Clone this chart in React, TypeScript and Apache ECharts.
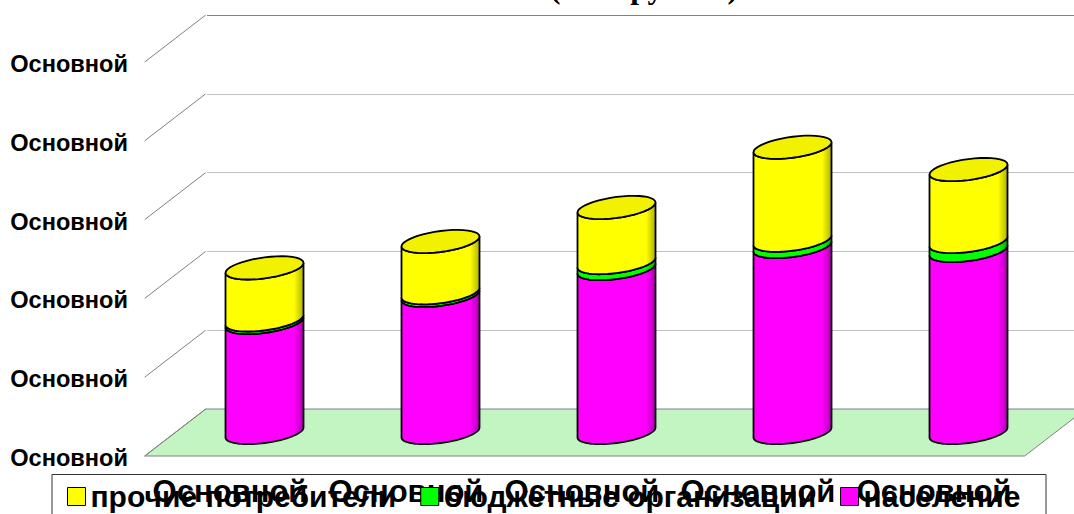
import React, { useEffect, useRef } from "react";
import * as echarts from "echarts";

const categories = ["Основной", "Основной", "Основной", "Основной", "Основной"];
const population = [139.7, 174, 208, 236, 231];
const budget = [3.2, 3.4, 7.6, 8, 11.4];
const others = [66, 65, 70, 118, 91.3];
const axisLabel = "Основной";
const names = ["население", "бюджетные организации", "прочие потребители"];
const colors = ["#ff00ff", "#00ff00", "#ffff00"];
const darks = ["#b000b0", "#00b000", "#b0b000"];
const topColors = ["#f000f0", "#00f000", "#f2f200"];

const DX = 30.5, DY = -25.5, A = 39, K = 5, B = 10.5;
const SLANT_X = 61, SLANT_Y = 47;
const FONT = "Liberation Sans";

function arcPts(cx: number, cy: number, from: number, to: number) {
  const pts: number[][] = [];
  const n = 40;
  for (let i = 0; i <= n; i++) {
    const t = from + ((to - from) * i) / n;
    const c = Math.cos(t), s = Math.sin(t);
    pts.push([cx + A * c, cy - K * c + B * s]);
  }
  return pts;
}

const stacks = [population, budget, others];

function cylinderSeries(idx: number) {
  return {
    type: "custom",
    name: names[idx],
    xAxisIndex: 1,
    yAxisIndex: 1,
    coordinateSystem: "cartesian2d",
    z: 10 + idx,
    clip: false,
    itemStyle: { color: colors[idx] },
    data: categories.map((_, i) => [i, stacks[idx][i]]),
    renderItem(_p: any, api: any) {
      const i = api.value(0);
      let lo = 0;
      for (let k = 0; k < idx; k++) lo += stacks[k][i];
      const hi = lo + api.value(1);
      const b = api.coord([i, lo]);
      const t = api.coord([i, hi]);
      const cx = b[0] + DX;
      const by = b[1] + DY;
      const ty = t[1] + DY;
      const bottomArc = arcPts(cx, by, 0, Math.PI);
      const topArc = arcPts(cx, ty, Math.PI, 0);
      const body = [...bottomArc, ...topArc];
      const fill = new echarts.graphic.LinearGradient(0, 0, 1, 0, [
        { offset: 0, color: colors[idx] },
        { offset: 0.88, color: colors[idx] },
        { offset: 0.9, color: topColors[idx] },
        { offset: 1, color: darks[idx] },
      ]);
      const children: any[] = [
        { type: "polygon", shape: { points: body }, style: { fill, stroke: "#000", lineWidth: 1.8 } },
      ];
      if (idx === stacks.length - 1) {
        children.push({
          type: "polygon",
          shape: { points: arcPts(cx, ty, 0, Math.PI * 2) },
          style: { fill: topColors[idx], stroke: "#000", lineWidth: 1.8 },
        });
      }
      return { type: "group", children, silent: true };
    },
  };
}

export default function App() {
  const ref = useRef<HTMLDivElement>(null);
  useEffect(() => {
    document.body.style.margin = "0";
    const chart = echarts.init(ref.current!, null, { renderer: "svg" });
    const tickValues = [0, 100, 200, 300, 400, 500];
    chart.setOption({
      animation: false,
      backgroundColor: "#fff",
      title: {
        text: "(тыс. рублей)",
        left: 550,
        top: -29,
        padding: 0,
        textStyle: { fontFamily: "Liberation Serif", fontWeight: "bold", fontSize: 31.5, color: "#000" },
      },
      legend: {
        left: 67,
        top: 481.5,
        padding: 0,
        z: 8,
        itemWidth: 18,
        itemHeight: 18,
        itemGap: 24,
        icon: "rect",
        itemStyle: { borderColor: "#000", borderWidth: 1 },
        data: [names[2], names[1], names[0]],
        textStyle: { fontFamily: FONT, fontWeight: "bold", fontSize: 30, color: "#000" },
      },
      graphic: [
        {
          type: "rect",
          z: 1,
          shape: { x: 52, y: 474.5, width: 994, height: 60 },
          style: { fill: "#fff", stroke: "#333", lineWidth: 1 },
        },
      ],
      grid: [
        { left: 207, top: 15, width: 880, height: 394 },
        { left: 146, top: 64, width: 880, height: 394 },
      ],
      xAxis: [
        { type: "category", gridIndex: 0, data: categories, show: false },
        {
          type: "category",
          gridIndex: 1,
          data: categories,
          z: 6,
          axisLine: { show: false },
          axisTick: { show: false },
          axisLabel: {
            margin: 18,
            interval: 0,
            padding: [0, 8, 0, 0],
            fontFamily: FONT,
            fontWeight: "bold",
            fontSize: 31,
            color: "#000",
            hideOverlap: false,
          },
        },
      ],
      yAxis: [
        {
          type: "value",
          gridIndex: 0,
          min: 0,
          max: 500,
          interval: 100,
          axisLine: { show: false },
          axisTick: { show: false },
          axisLabel: { show: false },
          splitLine: {
            show: true,
            lineStyle: {
              color: ["#808080", "#c0c0c0", "#c0c0c0", "#c0c0c0", "#c0c0c0", "#808080"],
              width: 1,
            },
          },
        },
        {
          type: "value",
          gridIndex: 1,
          min: 0,
          max: 500,
          interval: 100,
          axisLine: { show: false },
          axisTick: { show: false },
          splitLine: { show: false },
          axisLabel: {
            margin: 18,
            formatter: () => axisLabel,
            fontFamily: FONT,
            fontWeight: "bold",
            fontSize: 23.6,
            color: "#000",
          },
        },
      ],
      series: [
        {
          type: "custom",
          name: "floor",
          coordinateSystem: "cartesian2d",
          xAxisIndex: 0,
          yAxisIndex: 0,
          z: 0,
          silent: true,
          clip: false,
          data: [[0, 0]],
          renderItem(_p: any, api: any) {
            const o = api.coord([0, 0]);
            const x0 = o[0] - 88;
            const y = o[1];
            const w = 880;
            return {
              type: "polygon",
              shape: {
                points: [
                  [x0, y],
                  [x0 + w, y],
                  [x0 + w - SLANT_X, y + SLANT_Y],
                  [x0 - SLANT_X, y + SLANT_Y],
                ],
              },
              style: { fill: "#c3f5c3", stroke: "#808080", lineWidth: 1 },
            };
          },
        },
        {
          type: "custom",
          name: "slant",
          coordinateSystem: "cartesian2d",
          xAxisIndex: 0,
          yAxisIndex: 0,
          z: 3,
          silent: true,
          clip: false,
          data: tickValues.map((v) => [0, v]),
          renderItem(_p: any, api: any) {
            const o = api.coord([0, api.value(1)]);
            const x0 = o[0] - 88;
            return {
              type: "line",
              shape: { x1: x0, y1: o[1], x2: x0 - SLANT_X, y2: o[1] + SLANT_Y },
              style: { stroke: "#808080", lineWidth: 1 },
            };
          },
        },
        cylinderSeries(0),
        cylinderSeries(1),
        cylinderSeries(2),
      ],
    });
    return () => chart.dispose();
  }, []);
  return <div ref={ref} style={{ width: 1074, height: 514, overflow: "hidden" }} />;
}
